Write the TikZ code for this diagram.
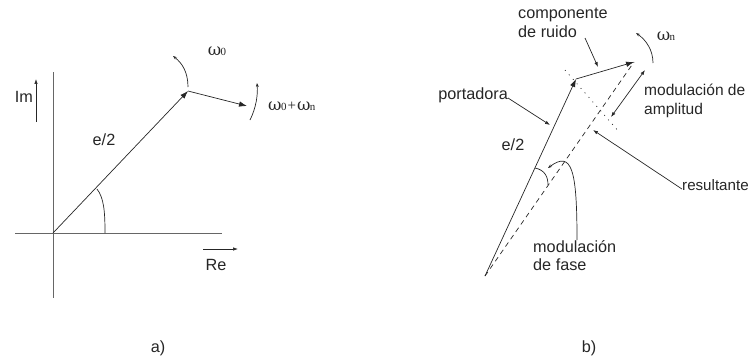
\documentclass[tikz,border=0pt]{standalone}
\usepackage{fontspec}
\setmainfont{Liberation Sans}
\newfontfamily\symf{DejaVu Serif}
\newfontfamily\plusf{Liberation Serif}
\usetikzlibrary{arrows.meta}
\newcommand{\omz}[1]{{\symf\fontsize{16.5}{16.5}\selectfont ω\kern-0.5pt\plusf\fontsize{11}{11}\selectfont #1}}
\begin{document}
\begin{tikzpicture}[x=1bp,y=-1bp,
  ln/.style={line width=0.7pt,black!85},
  vec/.style={ln,-{Latex[length=8pt,width=5.5pt]}},
  sarr/.style={ln,-{Latex[length=5pt,width=3.5pt]}},
  tarr/.style={ln,-{Stealth[length=4pt,width=3pt]}},
  axis/.style={line width=0.8pt,black!60},
  lbl/.style={font=\fontsize{16.3}{18.5}\selectfont,inner sep=0pt,text=black!85},
  lbll/.style={lbl,align=left}]
\useasboundingbox (0,0) rectangle (749,362);
% ---------- panel a ----------
\coordinate (O) at (53,233);
\coordinate (vt) at (53,72);
\coordinate (vb) at (53,298);
\coordinate (hl) at (15,233);
\coordinate (hr) at (222,233);
\coordinate (A) at (188,91);
\coordinate (B) at (247,106);
\draw[axis] (vt) -- (vb);
\draw[axis] (hl) -- (hr);
\draw[vec] (O) -- (A);
\draw[vec] (A) -- (B);
\coordinate (w0s) at (188,87);
\coordinate (w0e) at (173,56);
\draw[tarr] (w0s) .. controls (188,72) and (182,63) .. (w0e);
\coordinate (w1s) at (250,120);
\coordinate (w1e) at (257,83);
\draw[tarr] (w1s) .. controls (256,108) and (258,95) .. (w1e);
\node[lbl] (lw0) at (217,51) {\omz{0}};
\node[lbl,anchor=west] (lw1) at (268,106) {\omz{0}{\plusf\fontsize{15}{15}\selectfont\kern1pt+\kern1pt}\omz{n}};
\coordinate (arcs) at (97,189);
\coordinate (arce) at (105,233);
\draw[ln] (arcs) .. controls (104,198) and (105,212) .. (arce);
\node[lbl,anchor=east] (im) at (33,97) {Im};
\coordinate (ima) at (36,122);
\coordinate (imb) at (36,79);
\draw[sarr] (ima) -- (imb);
\node[lbl] (e2a) at (104,140) {e/2};
\coordinate (rea) at (203,249);
\coordinate (reb) at (238,249);
\draw[sarr] (rea) -- (reb);
\node[lbl] (re) at (216,265) {Re};
\node[lbl] (la) at (158,348) {a)};
% ---------- panel b ----------
\coordinate (P) at (485,276);
\coordinate (C) at (576,79);
\coordinate (N) at (634,62);
\draw[vec] (P) -- (C);
\draw[vec] (C) -- (N);
\draw[ln,dash pattern=on 5pt off 4pt] (P) -- (N);
\coordinate (d1) at (565,70);
\coordinate (d2) at (620,133);
\draw[ln,dash pattern=on 1pt off 5pt] (d1) -- (d2);
\coordinate (ma1) at (645,70);
\coordinate (ma2) at (611,117);
\draw[ln,{Latex[length=5pt,width=3.5pt]}-{Latex[length=5pt,width=3.5pt]}] (ma1) -- (ma2);
\coordinate (wns) at (653,63);
\coordinate (wne) at (636,33);
\draw[tarr] (wns) .. controls (653,50) and (646,40) .. (wne);
\node[lbl] (lwn) at (666,36) {\omz{n}};
\node[lbll,anchor=north west] (comp) at (518,8) {componente\\de ruido};
\coordinate (ca1) at (585,38);
\coordinate (ca2) at (598,67);
\draw[sarr] (ca1) -- (ca2);
\node[lbl,anchor=east] (port) at (508,95) {portadora};
\coordinate (pa1) at (508,98);
\coordinate (pa2) at (550,125);
\draw[sarr] (pa1) -- (pa2);
\node[lbll,anchor=north west,font=\fontsize{15.6}{18.5}\selectfont] (mamp) at (644,84) {modulación de\\amplitud};
\node[lbl] (e2b) at (513,145) {e/2};
\coordinate (ra1) at (682,189);
\coordinate (ra2) at (593,130);
\draw[sarr] (ra1) -- (ra2);
\node[lbl,anchor=west,font=\fontsize{15.2}{17}\selectfont] (res) at (682,185) {resultante};
\coordinate (bas) at (535,168);
\coordinate (bae) at (548,185);
\draw[ln] (bas) .. controls (545,170) and (548,177) .. (bae);
\coordinate (fs) at (577,240);
\coordinate (fe) at (548,168);
\draw[tarr] (fs) .. controls (577,170) and (572,150) .. (fe);
\node[lbll,anchor=north west] (mfase) at (533,240) {modulación\\de fase};
\node[lbl] (lb) at (589,348) {b)};
\end{tikzpicture}
\end{document}
